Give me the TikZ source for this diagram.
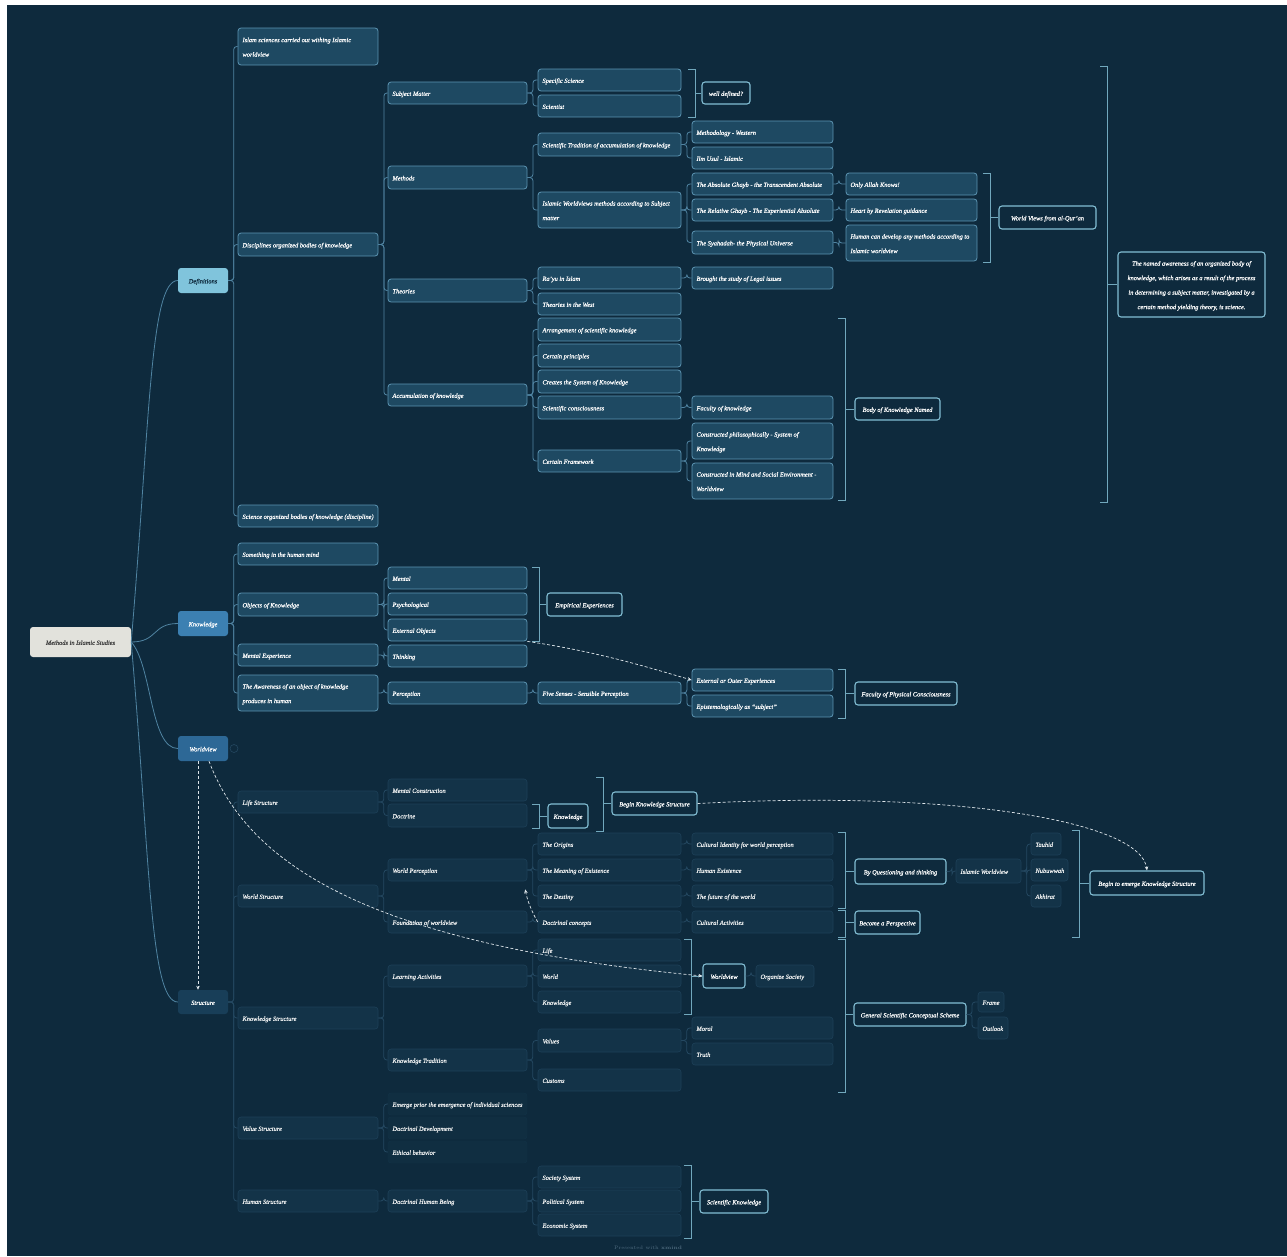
\documentclass[tikz,border=0pt]{standalone}
\usepackage{fontspec}
\newfontfamily\nfont{Liberation Serif}[FakeBold=0.45]
\usetikzlibrary{arrows.meta}
\definecolor{bg}{RGB}{14,42,61}
\definecolor{cRoot}{RGB}{226,226,220}
\definecolor{cDef}{RGB}{128,196,220}
\definecolor{cKno}{RGB}{60,128,178}
\definecolor{cWv}{RGB}{45,104,150}
\definecolor{cStr}{RGB}{24,62,88}
\definecolor{cBoxF}{RGB}{30,73,98}
\definecolor{cBoxD}{RGB}{92,148,178}
\definecolor{cSumD}{RGB}{130,190,212}
\definecolor{cConn}{RGB}{80,132,162}
\definecolor{cFBoxF}{RGB}{19,51,72}
\definecolor{cFBoxD}{RGB}{29,64,88}
\definecolor{cFConn}{RGB}{36,72,97}
\definecolor{cDash}{RGB}{222,230,235}
\tikzset{
 tx/.style={font=\nfont\fontsize{6.4}{14.5}\selectfont\itshape, text=white},
 nb/.style={tx, draw=cBoxD, fill=cBoxF, rounded corners=3pt, line width=0.8pt},
 sm/.style={tx, draw=cSumD, fill=bg, rounded corners=3pt, line width=1.1pt},
 fb/.style={tx, text=white!92!bg, draw=cFBoxD, fill=cFBoxF, rounded corners=3pt, line width=0.6pt},
 fv/.style={tx, text=white!92!bg, draw=cFBoxF, fill=bg!60!cFBoxF, rounded corners=3pt, line width=0.4pt},
 l1/.style={tx, draw=none, rounded corners=3pt},
 ln/.style={draw=cConn, line width=0.8pt},
 fl/.style={draw=cFConn, line width=0.8pt},
 bk/.style={draw=cSumD!85!bg, line width=0.9pt},
 dsh/.style={draw=cDash, line width=0.7pt, dash pattern=on 3pt off 2pt, -{Stealth[length=4pt,width=3.5pt]}},
}
\newcommand\mkg[8]{%
 \pgfmathsetmacro\mkw{#6-#4}\pgfmathsetmacro\mkh{#7-#5}\pgfmathsetmacro\mkt{#6-#4-9}%
 \pgfmathsetmacro\mkx{(#4+#6)/2}\pgfmathsetmacro\mky{(#5+#7)/2}%
 \node[#1,minimum width=\mkw pt,minimum height=\mkh pt,inner xsep=4.5pt,inner ysep=0pt] (#3) at (\mkx,\mky)
  {\makebox[\mkt pt][#2]{\begin{tabular}{@{}#2@{}}#8\end{tabular}}};}
\newcommand\mkl[7][nb]{\mkg{#1}{l}{#2}{#3}{#4}{#5}{#6}{#7}}
\newcommand\mkc[7][sm]{\mkg{#1}{c}{#2}{#3}{#4}{#5}{#6}{#7}}
\newcommand\mtree[3][ln]{\foreach \kid in {#3}{\draw[#1,rounded corners=3pt] (#2.east) -- ++(5.5,0) |- (\kid.west);}}
\newcommand\mbrk[4]{\draw[bk] (#1,#2) -- ({#1+7},#2) -- ({#1+7},#3) -- (#1,#3);
 \draw[bk] (#4.west) -- ({#1+7},0 |- #4.west);}
\begin{document}
\begin{tikzpicture}[x=1pt,y=-1pt]
\useasboundingbox (0,0) rectangle (1287,1256);
\fill[white] (0,0) rectangle (1287,1256);
\fill[bg] (7,5) rectangle (1287,1256);

% root and level 1
\mkc[l1,fill=cRoot,text=black!75]{root}{30}{627}{131}{657}{Methods in Islamic Studies}
\mkc[l1,fill=cDef,text=bg]{def}{178}{268}{228}{293}{Definitions}
\mkc[l1,fill=cKno]{kno}{178}{611}{228}{636}{Knowledge}
\mkc[l1,fill=cWv]{wv}{178}{736}{228}{761}{Worldview}
\mkc[l1,fill=cStr]{str}{178}{990}{228}{1014}{Structure}
\node[circle, draw=cFConn, line width=0.6pt, minimum size=8pt, inner sep=0pt] (wvc) at (234,748.5) {};

\draw[ln] (root.east) .. controls (150,420) and (150,280.5) .. (def.west);
\draw[ln] (root.east) .. controls (158,642) and (152,623.5) .. (kno.west);
\draw[ln] (root.east) .. controls (152,665) and (150,748.5) .. (wv.west);
\draw[ln] (root.east) .. controls (150,860) and (150,1002) .. (str.west);

% Definitions subtree
\mkl{d1}{238}{28}{378}{65}{Islam sciences carried out withing Islamic\\worldview}
\mkl{disc}{238}{233}{378}{256}{Disciplines organized bodies of knowledge}
\mkl{d3}{238}{505}{378}{527}{Science organized bodies of knowledge (discipline)}
\mkl{subj}{388}{82}{527}{104}{Subject Matter}
\mkl{meth}{388}{166}{527}{189}{Methods}
\mkl{theo}{388}{279}{527}{302}{Theories}
\mkl{accu}{388}{384}{527}{406}{Accumulation of knowledge}
\mkl{spec}{538}{69}{681}{91}{Specific Science}
\mkl{scit}{538}{95}{681}{117}{Scientist}
\mkc{welld}{702}{82}{750}{104}{well defined?}
\mkl{stra}{538}{133}{681}{156}{Scientific Tradition of accumulation of knowledge}
\mkl{iwm}{538}{192}{681}{228}{Islamic Worldviews methods according to Subject\\matter}
\mkl{mwest}{692}{121}{833}{143}{Methodology - Western}
\mkl{usul}{692}{147}{833}{169}{Ilm Usul - Islamic}
\mkl{absg}{692}{173}{833}{195}{The Absolute Ghayb - the Transcendent Absolute}
\mkl{relg}{692}{199}{833}{221}{The Relative Ghayb - The Experiential Absolute}
\mkl{syah}{692}{231}{833}{254}{The Syahadah- the Physical Universe}
\mkl{allah}{846}{173}{977}{195}{Only Allah Knows!}
\mkl{heart}{846}{199}{977}{221}{Heart by Revelation guidance}
\mkl{human}{846}{225}{977}{261}{Human can develop any methods according to\\Islamic worldview}
\mkc{wvq}{999}{206}{1096}{229}{World Views from al-Qur’an}
\mkl{rayu}{538}{267}{681}{289}{Ra’yu in Islam}
\mkl{legal}{692}{267}{833}{289}{Brought the study of Legal issues}
\mkl{west}{538}{293}{681}{315}{Theories in the West}
\mkl{arr}{538}{318}{681}{341}{Arrangement of scientific knowledge}
\mkl{prin}{538}{344}{681}{367}{Certain principles}
\mkl{csys}{538}{370}{681}{393}{Creates the System of Knowledge}
\mkl{scon}{538}{396}{681}{419}{Scientific consciousness}
\mkl{cfra}{538}{450}{681}{472}{Certain Framework}
\mkl{facu}{692}{396}{833}{419}{Faculty of knowledge}
\mkl{cphi}{692}{423}{833}{459}{Constructed philosophically - System of\\Knowledge}
\mkl{cmin}{692}{463}{833}{499}{Constructed in Mind and Social Environment -\\Worldview}
\mkc{bkn}{855}{398}{940}{420}{Body of Knowledge Named}
\mkc{named}{1118}{252}{1265}{317}{The named awareness of an organized body of\\knowledge, which arises as a result of the process\\in determining a subject matter, investigated by a\\certain method yielding theory, is science.}

\mtree{def}{d1,disc,d3}
\mtree{disc}{subj,meth,theo,accu}
\mtree{subj}{spec,scit}
\mtree{meth}{stra,iwm}
\mtree{stra}{mwest,usul}
\mtree{iwm}{absg,relg,syah}
\mtree{absg}{allah}
\mtree{relg}{heart}
\mtree{syah}{human}
\mtree{theo}{rayu,west}
\mtree{rayu}{legal}
\mtree{accu}{arr,prin,csys,scon,cfra}
\mtree{scon}{facu}
\mtree{cfra}{cphi,cmin}
\mbrk{688}{69}{117}{welld}
\mbrk{983}{173}{262}{wvq}
\mbrk{838}{318}{500}{bkn}
\mbrk{1100}{66}{502}{named}

% Knowledge subtree
\mkl{k1}{238}{543}{378}{565}{Something in the human mind}
\mkl{kobj}{238}{593}{378}{616}{Objects of Knowledge}
\mkl{kmex}{238}{644}{378}{666}{Mental Experience}
\mkl{kawa}{238}{675}{378}{711}{The Awareness of an object of knowledge\\produces in human}
\mkl{ment}{388}{567}{527}{589}{Mental}
\mkl{psy}{388}{593}{527}{615}{Psychological}
\mkl{extobj}{388}{619}{527}{641}{External Objects}
\mkl{think}{388}{645}{527}{667}{Thinking}
\mkl{perc}{388}{682}{527}{704}{Perception}
\mkc{emp}{547}{593}{622}{616}{Empirical Experiences}
\mkl{five}{538}{682}{681}{704}{Five Senses - Sensible Perception}
\mkl{outer}{692}{669}{833}{691}{External or Outer Experiences}
\mkl{epis}{692}{695}{833}{717}{Epistemologically as “subject”}
\mkc{fpc}{855}{682}{957}{705}{Faculty of Physical Consciousness}
\mtree{kno}{k1,kobj,kmex,kawa}
\mtree{kobj}{ment,psy,extobj}
\mtree{kmex}{think}
\mtree{kawa}{perc}
\mtree{perc}{five}
\mtree{five}{outer,epis}
\mbrk{532}{567}{641}{emp}
\mbrk{838}{669}{718}{fpc}
\draw[dsh] (extobj.south east) .. controls (600,652) and (650,668) .. (outer.west);

% Structure subtree
\mkl[fb]{ls}{238}{791}{378}{813}{Life Structure}
\mkl[fb]{ws}{238}{885}{378}{907}{World Structure}
\mkl[fb]{ks}{238}{1007}{378}{1029}{Knowledge Structure}
\mkl[fb]{vs}{238}{1117}{378}{1139}{Value Structure}
\mkl[fb]{hs}{238}{1190}{378}{1212}{Human Structure}
\mkl[fb]{mc}{388}{779}{527}{801}{Mental Construction}
\mkl[fb]{doct}{388}{804}{527}{827}{Doctrine}
\mkc{knw}{548}{804}{588}{828}{Knowledge}
\mkc{bks}{612}{792}{697}{815}{Begin Knowledge Structure}
\mkl[fb]{wp}{388}{859}{527}{881}{World Perception}
\mkl[fb]{fw}{388}{911}{527}{933}{Foundation of worldview}
\mkl[fb]{orig}{538}{833}{681}{855}{The Origins}
\mkl[fb]{mean}{538}{859}{681}{881}{The Meaning of Existence}
\mkl[fb]{dest}{538}{885}{681}{907}{The Destiny}
\mkl[fb]{dcon}{538}{911}{681}{933}{Doctrinal concepts}
\mkl[fb]{cid}{692}{833}{833}{855}{Cultural Identity for world perception}
\mkl[fb]{hex}{692}{859}{833}{881}{Human Existence}
\mkl[fb]{fut}{692}{885}{833}{907}{The future of the world}
\mkl[fb]{cact}{692}{911}{833}{933}{Cultural Activities}
\mkc{bqt}{855}{859}{946}{884}{By Questioning and thinking}
\mkl[fb]{iwv}{956}{859}{1021}{883}{Islamic Worldview}
\mkl[fb]{tau}{1031}{833}{1061}{855}{Tauhid}
\mkl[fb]{nub}{1031}{859}{1068}{881}{Nubuwwah}
\mkl[fb]{akh}{1031}{885}{1061}{907}{Akhirat}
\mkc{bte}{1090}{871}{1204}{895}{Begin to emerge Knowledge Structure}
\mkc{bap}{855}{911}{920}{934}{Become a Perspective}
\mkc{gscs}{854}{1003}{966}{1026}{General Scientific Conceptual Scheme}
\mkl[fb]{frame}{978}{992}{1004}{1012}{Frame}
\mkl[fb]{outl}{978}{1017}{1008}{1039}{Outlook}
\mkl[fb]{lact}{388}{965}{527}{987}{Learning Activities}
\mkl[fb]{ktr}{388}{1049}{527}{1071}{Knowledge Tradition}
\mkl[fb]{life}{538}{939}{681}{961}{Life}
\mkl[fb]{world}{538}{965}{681}{987}{World}
\mkl[fb]{knl}{538}{991}{681}{1013}{Knowledge}
\mkc{wv2}{703}{964}{745}{988}{Worldview}
\mkl[fb]{orgs}{756}{965}{814}{987}{Organize Society}
\mkl[fb]{vals}{538}{1029}{681}{1052}{Values}
\mkl[fb]{cust}{538}{1069}{681}{1091}{Customs}
\mkl[fb]{moral}{692}{1017}{833}{1039}{Moral}
\mkl[fb]{truth}{692}{1043}{833}{1065}{Truth}
\mkl[fv]{emer}{388}{1093}{527}{1115}{Emerge prior the emergence of individual sciences}
\mkl[fv]{ddev}{388}{1117}{527}{1139}{Doctrinal Development}
\mkl[fv]{ethb}{388}{1141}{527}{1163}{Ethical behavior}
\mkl[fb]{dhb}{388}{1190}{527}{1212}{Doctrinal Human Being}
\mkl[fb]{socs}{538}{1166}{681}{1188}{Society System}
\mkl[fb]{pols}{538}{1190}{681}{1212}{Political System}
\mkl[fb]{ecos}{538}{1214}{681}{1236}{Economic System}
\mkc{scik}{700}{1190}{768}{1213}{Scientific Knowledge}

\mtree[fl]{str}{ls,ws,ks,vs,hs}
\mtree[fl]{ls}{mc,doct}
\mtree[fl]{ws}{wp,fw}
\mtree[fl]{wp}{orig,mean,dest}
\mtree[fl]{fw}{dcon}
\mtree[fl]{orig}{cid}
\mtree[fl]{mean}{hex}
\mtree[fl]{dest}{fut}
\mtree[fl]{dcon}{cact}
\mtree[fl]{bqt}{iwv}
\mtree[fl]{iwv}{tau,nub,akh}
\mtree[fl]{gscs}{frame,outl}
\mtree[fl]{ks}{lact,ktr}
\mtree[fl]{lact}{life,world,knl}
\mtree[fl]{ktr}{vals,cust}
\mtree[fl]{vals}{moral,truth}
\mtree[fl]{wv2}{orgs}
\mtree[fl]{vs}{emer,ddev,ethb}
\mtree[fl]{hs}{dhb}
\mtree[fl]{dhb}{socs,pols,ecos}

\mbrk{532}{804}{828}{knw}
\mbrk{596}{777}{831}{bks}
\mbrk{838}{832}{908}{bqt}
\mbrk{838}{910}{937}{bap}
\mbrk{838}{939}{1092}{gscs}
\mbrk{1072}{830}{937}{bte}
\mbrk{684}{939}{1014}{wv2}
\mbrk{684}{1165}{1238}{scik}

% dashed relations
\draw[dsh] ([xshift=-5pt]wv.south) -- ([xshift=-5pt]str.north);
\draw[dsh] ([xshift=6pt]wv.south) .. controls (250,870) and (380,945) .. (wv2.west);
\draw[dsh] (dcon.west) .. controls (532,912) and (527,900) .. ([xshift=-2pt,yshift=-8pt]wp.south east);
\draw[dsh] (bks.east) .. controls (950,790) and (1140,820) .. (bte.north);

\node[font=\fontsize{5}{6}\selectfont, text=cFConn!80!white] (foot) at (648,1248) {Presented with \textbf{xmind}};
\end{tikzpicture}
\end{document}
